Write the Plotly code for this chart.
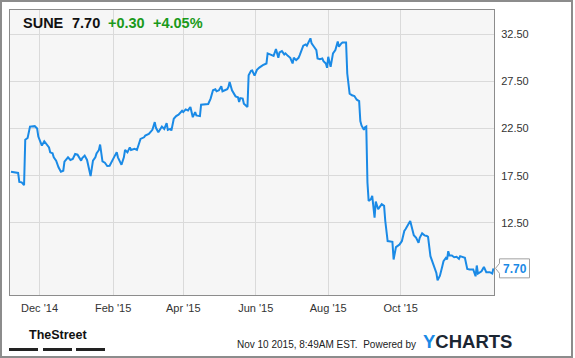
import plotly.graph_objects as go

# ---- data ----
dates = [
    "2014-11-07", "2014-11-11", "2014-11-13", "2014-11-14", "2014-11-16", "2014-11-18", "2014-11-19",
    "2014-11-21", "2014-11-23", "2014-11-27", "2014-11-29", "2014-11-30", "2014-12-03", "2014-12-05",
    "2014-12-07", "2014-12-09", "2014-12-10", "2014-12-12", "2014-12-13", "2014-12-15", "2014-12-17",
    "2014-12-19", "2014-12-21", "2014-12-22", "2014-12-25", "2014-12-27", "2014-12-29", "2014-12-31",
    "2015-01-02", "2015-01-05", "2015-01-06", "2015-01-08", "2015-01-10", "2015-01-13", "2015-01-15",
    "2015-01-17", "2015-01-18", "2015-01-20", "2015-01-21", "2015-01-23", "2015-01-25", "2015-01-27",
    "2015-01-29", "2015-01-31", "2015-02-02", "2015-02-04", "2015-02-05", "2015-02-07", "2015-02-08",
    "2015-02-10", "2015-02-11", "2015-02-13", "2015-02-15", "2015-02-16", "2015-02-19", "2015-02-21",
    "2015-02-23", "2015-02-24", "2015-02-27", "2015-02-28", "2015-03-03", "2015-03-04", "2015-03-06",
    "2015-03-08", "2015-03-09", "2015-03-11", "2015-03-13", "2015-03-14", "2015-03-16", "2015-03-18",
    "2015-03-19", "2015-03-21", "2015-03-22", "2015-03-24", "2015-03-26", "2015-03-28", "2015-03-31",
    "2015-04-01", "2015-04-03", "2015-04-05", "2015-04-06", "2015-04-07", "2015-04-09", "2015-04-11",
    "2015-04-12", "2015-04-15", "2015-04-16", "2015-04-19", "2015-04-22", "2015-04-24", "2015-04-26",
    "2015-04-28", "2015-04-29", "2015-05-01", "2015-05-03", "2015-05-04", "2015-05-06", "2015-05-08",
    "2015-05-09", "2015-05-10", "2015-05-12", "2015-05-14", "2015-05-15", "2015-05-17", "2015-05-18",
    "2015-05-19", "2015-05-21", "2015-05-22", "2015-05-24", "2015-05-25", "2015-05-26", "2015-05-28",
    "2015-05-29", "2015-05-31", "2015-06-02", "2015-06-04", "2015-06-07", "2015-06-10", "2015-06-11",
    "2015-06-14", "2015-06-16", "2015-06-18", "2015-06-20", "2015-06-21", "2015-06-23", "2015-06-25",
    "2015-06-26", "2015-06-28", "2015-06-30", "2015-07-02", "2015-07-03", "2015-07-05", "2015-07-07",
    "2015-07-08", "2015-07-10", "2015-07-11", "2015-07-13", "2015-07-14", "2015-07-17", "2015-07-18",
    "2015-07-20", "2015-07-22", "2015-07-23", "2015-07-25", "2015-07-27", "2015-07-28", "2015-07-30",
    "2015-07-31", "2015-08-01", "2015-08-03", "2015-08-05", "2015-08-07", "2015-08-09", "2015-08-10",
    "2015-08-12", "2015-08-13", "2015-08-16", "2015-08-17", "2015-08-19", "2015-08-21", "2015-08-23",
    "2015-08-25", "2015-08-27", "2015-08-28", "2015-08-29", "2015-08-31", "2015-09-01", "2015-09-02",
    "2015-09-03", "2015-09-04", "2015-09-06", "2015-09-07", "2015-09-09", "2015-09-10", "2015-09-12",
    "2015-09-14", "2015-09-15", "2015-09-17", "2015-09-18", "2015-09-20", "2015-09-22", "2015-09-24",
    "2015-09-25", "2015-09-27", "2015-09-29", "2015-09-30", "2015-10-02", "2015-10-04", "2015-10-05",
    "2015-10-07", "2015-10-09", "2015-10-12", "2015-10-14", "2015-10-16", "2015-10-17", "2015-10-19",
    "2015-10-21", "2015-10-23", "2015-10-24", "2015-10-26", "2015-10-28", "2015-10-31", "2015-11-01",
    "2015-11-03", "2015-11-05", "2015-11-06", "2015-11-08", "2015-11-09", "2015-11-10", "2015-11-11",
    "2015-11-13", "2015-11-15", "2015-11-17", "2015-11-19", "2015-11-20", "2015-11-22", "2015-11-24",
    "2015-11-26", "2015-11-28", "2015-12-01", "2015-12-03", "2015-12-04", "2015-12-05", "2015-12-08",
    "2015-12-10", "2015-12-12", "2015-12-15", "2015-12-17", "2015-12-18",
]
prices = [
    17.93, 17.85, 17.80, 16.85, 16.80, 16.50, 21.30,
    21.50, 22.70, 22.75, 22.50, 21.65, 20.70, 21.15,
    20.85, 20.50, 19.98, 19.87, 19.45, 19.10, 18.40,
    17.93, 18.03, 19.00, 19.45, 19.17, 19.27, 19.80,
    19.73, 19.10, 19.38, 19.63, 19.17, 17.47, 19.10,
    19.45, 19.87, 20.23, 20.80, 19.02, 18.88, 18.53,
    18.56, 19.10, 19.52, 19.98, 19.45, 18.92, 18.67,
    19.45, 20.23, 19.98, 20.50, 20.23, 20.34, 20.23,
    21.15, 21.40, 21.57, 21.75, 21.93, 22.10, 22.36,
    23.17, 22.57, 22.10, 22.57, 22.71, 22.46, 23.06,
    22.36, 22.46, 22.29, 23.53, 23.81, 23.96, 24.38,
    24.24, 24.52, 24.41, 24.60, 24.77, 23.70, 24.24,
    23.88, 23.81, 25.02, 25.09, 25.09, 25.66, 26.54,
    26.65, 26.44, 26.54, 26.97, 26.44, 26.54, 26.65,
    26.90, 27.43, 26.54, 26.01, 25.90, 25.80, 25.30,
    25.72, 25.66, 25.13, 24.95, 24.77, 28.14, 28.60,
    28.64, 28.10, 28.70, 28.95, 29.20, 29.38, 30.45,
    30.34, 30.19, 30.90, 29.98, 30.55, 30.69, 30.34,
    30.45, 30.19, 29.98, 29.38, 29.98, 29.73, 29.98,
    30.27, 30.90, 31.26, 31.40, 31.26, 32.04, 31.51,
    31.15, 30.80, 29.91, 29.84, 29.91, 29.63, 29.38,
    28.92, 30.09, 29.02, 30.45, 30.80, 31.70, 31.15,
    31.50, 31.60, 31.60, 28.32, 26.19, 26.01, 25.94,
    25.55, 25.40, 23.28, 22.82, 22.36, 22.64, 22.71,
    16.79, 14.84, 15.02, 15.37, 13.06, 14.77, 13.96,
    14.31, 14.49, 14.31, 12.71, 10.59, 10.51, 10.51,
    8.64, 9.95, 10.13, 10.23, 10.59, 11.65, 11.83,
    12.25, 12.71, 11.20, 10.94, 10.40, 10.94, 11.40,
    11.19, 11.12, 11.04, 8.99, 8.28, 7.21, 6.44,
    6.93, 7.93, 8.46, 8.81, 8.64, 9.52, 9.06,
    9.06, 8.88, 8.92, 8.70, 8.99, 8.92, 8.81,
    7.64, 7.58, 7.58, 6.86, 8.00, 7.15, 7.39,
    7.85, 7.29, 7.29, 7.15, 7.70,
]
x_tick_dates = ["2014-12-01", "2015-02-01", "2015-04-01", "2015-06-01", "2015-08-01", "2015-10-01"]
x_tick_labels = ["Dec '14", "Feb '15", "Apr '15", "Jun '15", "Aug '15", "Oct '15"]
y_ticks = [12.5, 17.5, 22.5, 27.5, 32.5]
y_tick_labels = ["12.50", "17.50", "22.50", "27.50", "32.50"]
ticker = "SUNE"
last_price = "7.70"
change = "+0.30"
change_pct = "+4.05%"
timestamp = "Nov 10 2015, 8:49AM EST.  Powered by"

# ---- geometry (pixels) ----
W, H = 575, 358
L, R, T, B = 10, 494, 10, 295
YMIN, YMAX = 4.88, 35.04
X_RANGE = ["2014-11-06 04:00", "2015-12-18 12:00"]


def px(x):
    return (x - L) / (R - L)


def py(y):
    return (B - y) / (B - T)


def vpix(v):
    return T + (YMAX - v) / (YMAX - YMIN) * (B - T)


FONT = "Liberation Sans, Arial, sans-serif"
BLUE = "#1a8ae6"

fig = go.Figure()
fig.add_trace(go.Scatter(
    x=dates, y=prices, mode="lines",
    line=dict(color=BLUE, width=2),
    hoverinfo="skip",
))

shapes = []
# outer frame
shapes.append(dict(type="rect", xref="paper", yref="paper",
                   x0=px(1), x1=px(572), y0=py(357), y1=py(1),
                   line=dict(color="#8c8c8c", width=2), fillcolor="rgba(0,0,0,0)", layer="above"))
# TheStreet bars
for a, b in [(9, 38), (43, 72), (76, 105)]:
    shapes.append(dict(type="rect", xref="paper", yref="paper",
                       x0=px(a), x1=px(b), y0=py(351), y1=py(348),
                       line=dict(width=0), fillcolor="#222222"))
# last price label box with pointer
yc = vpix(float(last_price))
pts = [(529.5, yc - 9.5), (499.5, yc - 9.5), (499.5, yc - 5), (495.5, yc), (499.5, yc + 5),
       (499.5, yc + 9.5), (529.5, yc + 9.5)]
path = "M " + " L ".join(f"{px(a):.5f},{py(b):.5f}" for a, b in pts) + " Z"
shapes.append(dict(type="path", xref="paper", yref="paper", path=path,
                   line=dict(color="#a0a0a0", width=1), fillcolor="white", layer="above"))

annotations = []


def text(x, y, s, size, color="#222222", anchor="left", family=FONT):
    annotations.append(dict(xref="paper", yref="paper", x=px(x), y=py(y), text=s,
                            showarrow=False, xanchor=anchor, yanchor="middle",
                            font=dict(family=family, size=size, color=color)))


# header
text(21, 23, f"<b>{ticker}</b>", 14.5, "#111111")
text(70, 23, f"<b>{last_price}</b>", 14.5, "#111111")
text(106, 23, f"<b>{change}</b>", 14.5, "#1a9a1a")
text(151, 23, f"<b>{change_pct}</b>", 14.5, "#1a9a1a")
# last price label
text(514.5, yc + 0.5, f"<b>{last_price}</b>", 12, BLUE, anchor="center")
# footer
text(57.5, 335, "<b>TheStreet</b>", 12.5, "#111111", anchor="center",
     family="Liberation Sans Narrow, Arial Narrow, Liberation Sans, sans-serif")
text(418, 344, timestamp, 10, "#222222", anchor="right")
text(421, 341.5, f"<b><span style='color:{BLUE}'>Y</span>CHARTS</b>", 18.5, "#1b2633")

fig.update_layout(
    width=W, height=H,
    margin=dict(l=L, r=W - R, t=T, b=H - B, pad=0),
    paper_bgcolor="white",
    plot_bgcolor="#f6f6f6",
    showlegend=False,
    font=dict(family=FONT, size=11, color="#333333"),
    shapes=shapes,
    annotations=annotations,
    xaxis=dict(
        type="date", range=X_RANGE,
        tickmode="array", tickvals=x_tick_dates, ticktext=x_tick_labels,
        showgrid=True, gridcolor="#dadada", gridwidth=1,
        showline=True, linecolor="#8c8c8c", linewidth=1, mirror=True,
        ticks="outside", ticklen=3, tickcolor="rgba(0,0,0,0)",
        tickfont=dict(size=11, color="#333333"),
        zeroline=False, fixedrange=True,
    ),
    yaxis=dict(
        range=[YMIN, YMAX], side="right",
        tickmode="array", tickvals=y_ticks, ticktext=y_tick_labels,
        showgrid=True, gridcolor="#dadada", gridwidth=1,
        showline=True, linecolor="#8c8c8c", linewidth=1, mirror=True,
        ticks="outside", ticklen=4, tickcolor="rgba(0,0,0,0)",
        tickfont=dict(size=11, color="#333333"),
        zeroline=False, fixedrange=True,
    ),
)

fig.write_html("out.html")
